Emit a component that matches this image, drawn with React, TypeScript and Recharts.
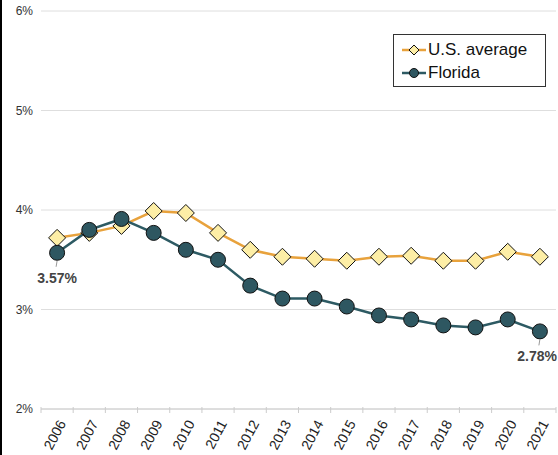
import React from 'react';
import { LineChart, Line, XAxis, YAxis, CartesianGrid, LabelList } from 'recharts';

const years = ['2006', '2007', '2008', '2009', '2010', '2011', '2012', '2013', '2014', '2015', '2016', '2017', '2018', '2019', '2020', '2021'];
const usAverage = [3.72, 3.77, 3.84, 3.99, 3.97, 3.77, 3.60, 3.53, 3.51, 3.49, 3.53, 3.54, 3.49, 3.49, 3.58, 3.53];
const florida = [3.57, 3.80, 3.91, 3.77, 3.60, 3.50, 3.24, 3.11, 3.11, 3.03, 2.94, 2.90, 2.84, 2.82, 2.90, 2.78];
const yTicks = [2, 3, 4, 5, 6];

const US_LINE = '#e8a23c';
const US_FILL = '#fdeea6';
const FL_LINE = '#2d5a63';
const FL_FILL = '#2e5761';

const data = years.map((year, i) => ({ year, us: usAverage[i], fl: florida[i] }));

const HALF_BAND = 16.1;

const Diamond = (props: any) => {
  const { cx, cy } = props;
  if (cx == null || cy == null) return null;
  const s = 8.5;
  return (
    <polygon
      points={`${cx},${cy - s} ${cx + s},${cy} ${cx},${cy + s} ${cx - s},${cy}`}
      fill={US_FILL}
      stroke="#111"
      strokeWidth={1}
    />
  );
};

const Circle = (props: any) => {
  const { cx, cy } = props;
  if (cx == null || cy == null) return null;
  return <circle cx={cx} cy={cy} r={7.5} fill={FL_FILL} stroke="#111" strokeWidth={1} />;
};

const YearTick = (props: any) => {
  const { x, y, payload, index } = props;
  const last = index === years.length - 1;
  return (
    <g>
      <line x1={x - HALF_BAND} y1={y - 2} x2={x - HALF_BAND} y2={y + 4} stroke="#ccc" strokeWidth={1} />
      {last && <line x1={x + HALF_BAND} y1={y - 2} x2={x + HALF_BAND} y2={y + 4} stroke="#ccc" strokeWidth={1} />}
      <text
        x={0}
        y={0}
        transform={`translate(${x + 5},${y + 12}) rotate(-62)`}
        textAnchor="end"
        dy="0.35em"
        fontSize={14}
        fill="#222"
      >
        {payload.value}
      </text>
    </g>
  );
};

const EndLabel = (props: any) => {
  const { x, y, value, index } = props;
  const last = index === years.length - 1;
  if (index !== 0 && !last) return null;
  return (
    <g>
      <line x1={x} y1={y + 8} x2={x - 1} y2={y + 14} stroke="#999" strokeWidth={1} />
      <text
        x={last ? 557 : x}
        y={y + 30}
        textAnchor={last ? 'end' : 'middle'}
        fontSize={14}
        fontWeight="bold"
        fill="#444"
      >
        {`${value.toFixed(2)}%`}
      </text>
    </g>
  );
};

const LegendBox = () => (
  <div
    style={{
      position: 'absolute',
      left: 393,
      top: 34,
      border: '1px solid #333',
      background: '#fff',
      width: 153,
      height: 53,
      boxSizing: 'border-box',
      padding: '3px 0 0 8px',
      fontSize: 17,
      color: '#111',
      lineHeight: '23px',
    }}
  >
    <div style={{ display: 'flex', alignItems: 'center' }}>
      <svg width={24} height={18} style={{ marginRight: 2 }}>
        <line x1={0} y1={9} x2={24} y2={9} stroke={US_LINE} strokeWidth={2.5} />
        <polygon points="12,4 17,9 12,14 7,9" fill={US_FILL} stroke="#111" strokeWidth={1} />
      </svg>
      <span>U.S. average</span>
    </div>
    <div style={{ display: 'flex', alignItems: 'center' }}>
      <svg width={24} height={18} style={{ marginRight: 2 }}>
        <line x1={0} y1={9} x2={24} y2={9} stroke={FL_LINE} strokeWidth={2.5} />
        <circle cx={12} cy={9} r={4.5} fill={FL_FILL} stroke="#111" strokeWidth={1} />
      </svg>
      <span>Florida</span>
    </div>
  </div>
);

export default function App() {
  return (
    <div style={{ position: 'absolute', left: 0, top: 0, width: 558, height: 455, background: '#fff', fontFamily: '"Liberation Sans", Arial, sans-serif' }}>
      <LineChart width={558} height={455} data={data} margin={{ top: 11, right: 2, left: 0, bottom: 0 }}>
        <CartesianGrid horizontal vertical={false} stroke="#dedede" />
        <XAxis
          dataKey="year"
          height={46}
          padding={{ left: HALF_BAND, right: HALF_BAND }}
          axisLine={{ stroke: '#ccc' }}
          tickLine={false}
          tickSize={0}
          tickMargin={0}
          interval={0}
          tick={<YearTick />}
        />
        <YAxis
          width={41}
          domain={[2, 6]}
          ticks={yTicks}
          axisLine={false}
          tickLine={false}
          tickFormatter={(v: number) => `${v}%`}
          tick={{ fontSize: 12, fill: '#333' }}
        />
        <Line
          type="linear"
          dataKey="us"
          stroke={US_LINE}
          strokeWidth={2.5}
          dot={<Diamond />}
          activeDot={false}
          isAnimationActive={false}
        />
        <Line
          type="linear"
          dataKey="fl"
          stroke={FL_LINE}
          strokeWidth={2.5}
          dot={<Circle />}
          activeDot={false}
          isAnimationActive={false}
        >
          <LabelList dataKey="fl" content={<EndLabel />} />
        </Line>
      </LineChart>
      <LegendBox />
      <div style={{ position: 'absolute', left: 0, top: 0, width: 2, height: 455, background: '#000' }} />
    </div>
  );
}
